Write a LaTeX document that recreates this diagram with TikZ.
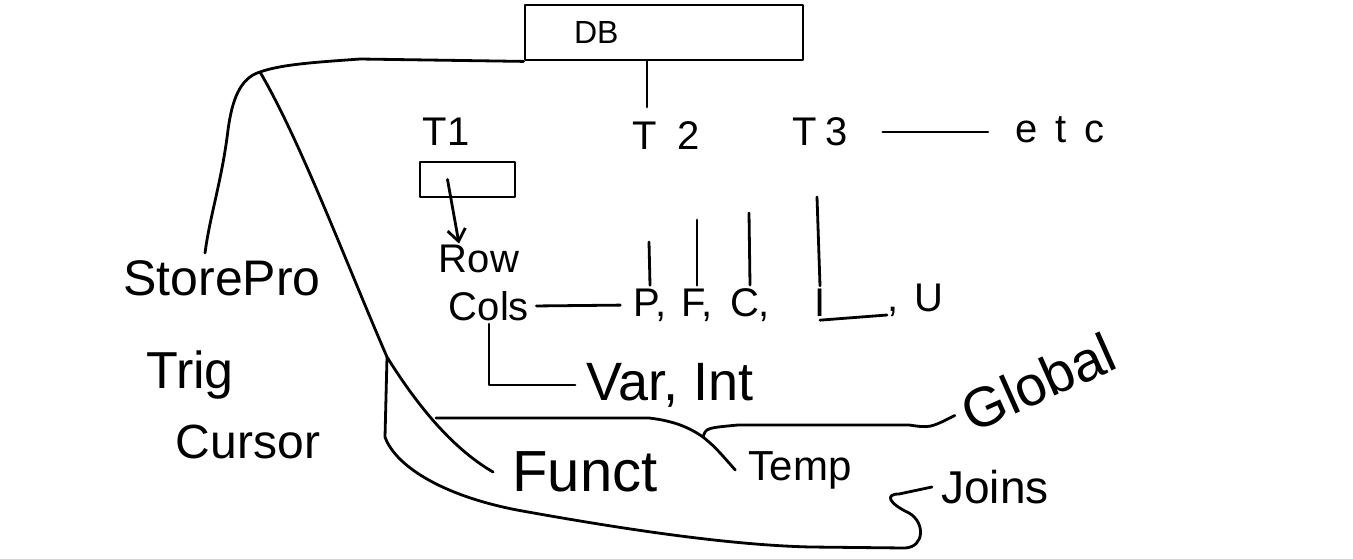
\documentclass[tikz,border=0pt]{standalone}
\usepackage{fontspec}
\setmainfont{Liberation Sans}
\usetikzlibrary{arrows.meta}
\begin{document}
\begin{tikzpicture}[x=0.5pt,y=-0.5pt,
  line width=1.4pt, line cap=round, line join=round,
  lbl/.style={inner sep=1pt, font=\fontsize{#1pt}{#1pt}\selectfont},
  boxnode/.style={draw, inner sep=0pt}]
\fill[white] (0,0) rectangle (1353,558);
\useasboundingbox (0,0) rectangle (1353,558);

% nodes
\node[boxnode, minimum width=139pt, minimum height=27.5pt, text width=110pt,
      inner xsep=14.5pt, align=left, font=\fontsize{16pt}{16pt}\selectfont]
      (db) at (664,32.5) {\hspace*{10pt}DB};
\node[lbl=20] (t1) at (446,132) {T1};
\node[lbl=20] (t2) at (666,136) {T\hspace{10pt}2};
\node[lbl=20] (t3) at (820,132) {T\hspace{4pt}3};
\node[lbl=20] (etc) at (1060,130) {e\hspace{9pt}t\hspace{9pt}c};
\node[boxnode, minimum width=47.5pt, minimum height=17.5pt] (tbox) at (467.5,179.5) {};
\node[lbl=20] (row) at (479,259) {Row};
\node[lbl=20] (cols) at (489,306) {Cols};
\node[lbl=20] (p) at (650,305) {P,};
\node[lbl=20] (f) at (697,305) {F,};
\node[lbl=20] (c) at (750,305) {C,};
\node[lbl=20] (i) at (820,303) {I};
\node[lbl=20, anchor=west] (u) at (884,300) {,\hspace{8pt}U};
\node[lbl=27] (vi) at (670,385) {Var, Int};
\node[lbl=29] (funct) at (585,472) {Funct};
\node[lbl=21] (temp) at (800,470) {Temp};
\node[lbl=28, rotate=24, inner sep=0pt] (global) at (1038,382) {Global};
\node[lbl=23] (joins) at (995,487) {Joins};
\node[lbl=25] (sp) at (222,278) {StorePro};
\node[lbl=26] (trig) at (190,375) {Trig};
\node[lbl=24] (cursor) at (248,442) {Cursor};

% named points
\coordinate (fork) at (260,72);
\coordinate (sptop) at (205,253);
\coordinate (vbr) at (387,357);
\coordinate (hbr) at (436,418);
\coordinate (gbr) at (703,437);
\coordinate (t2top) at (647,107);
\coordinate (pl) at (649,242);
\coordinate (fl) at (697,220);
\coordinate (cl) at (749,213);
\coordinate (il) at (817,197);
\coordinate (icomma) at (887,315);

% DB connectors
\draw (db.south -| t2top) -- (t2top);
\draw (db.south west) -- (360,59) .. controls (320,62) and (282,64) .. (fork)
      .. controls (240,78) and (232,100) .. (228,130)
      .. controls (222,180) and (210,215) .. (sptop);
\draw (fork) .. controls (300,140) and (345,260) .. (vbr)
      .. controls (420,410) and (455,450) .. ([xshift=-8pt]funct.west);

% tables
\draw[shorten <=16pt, shorten >=12pt] (t3.east) -- (etc.west |- t3.east);
\draw[-{Straight Barb[length=6pt,width=9pt]}] ([xshift=-10pt]tbox.center) -- ([xshift=-10pt,yshift=-1pt]row.north);
\draw[shorten <=2pt, shorten >=5pt] (cols.east) -- (p.west);
\draw (cols.south) -- (cols.south |- vi.west) -- ([xshift=-4pt]vi.west);
\draw (pl) -- (p.north);
\draw (fl) -- (f.north);
\draw (cl) -- (c.north);
\draw (il) -- (i.north);
\draw (i.south) -- (icomma);

% lower branches
\draw (vbr) -- (385,437) .. controls (395,465) and (440,495) .. (517,510)
      .. controls (600,525) and (720,545) .. (811,547) -- (905,548)
      .. controls (925,547) and (925,522) .. (909,513)
      .. controls (888,503) and (885,494) .. (899,494) -- ([xshift=-3pt]joins.west);
\draw (hbr) -- (649,418) .. controls (675,421) and (690,428) .. (gbr)
      .. controls (715,447) .. ([xshift=-5pt]temp.west);
\draw (gbr) .. controls (706,428) .. (738,425) -- (909,425)
      .. controls (930,428) .. ([xshift=-4pt]global.west);
\end{tikzpicture}
\end{document}
